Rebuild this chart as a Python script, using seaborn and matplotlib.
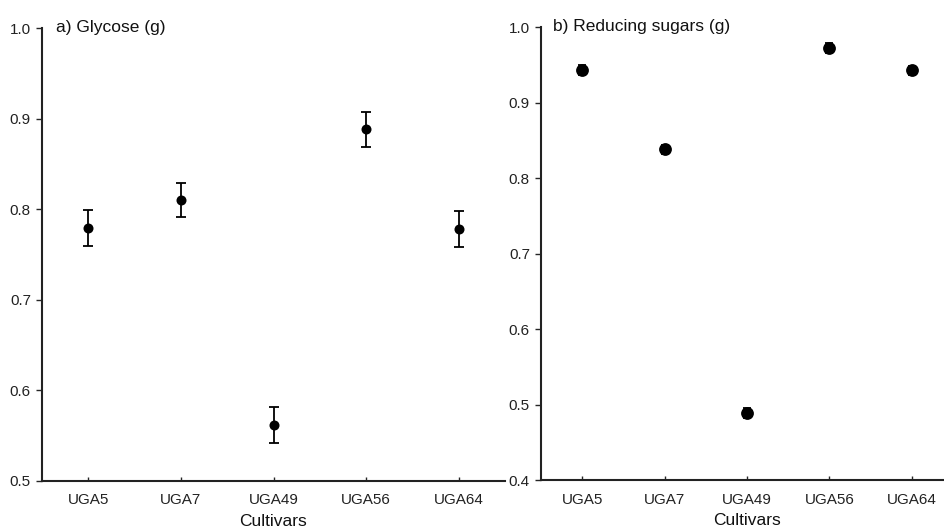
import numpy as np
import matplotlib
matplotlib.use("Agg")
import matplotlib.pyplot as plt
import seaborn as sns

# data
cultivars = ["UGA5", "UGA7", "UGA49", "UGA56", "UGA64"]
glycose_mean = [0.779, 0.810, 0.562, 0.888, 0.778]
glycose_err = [0.020, 0.019, 0.020, 0.019, 0.020]
sugars_mean = [0.943, 0.838, 0.489, 0.972, 0.943]
sugars_err = [0.007, 0.006, 0.007, 0.007, 0.006]

sns.set_theme(style="ticks")
plt.rcParams['font.family'] = ['Liberation Sans', 'DejaVu Sans']

fig = plt.figure(figsize=(9.45, 5.31), dpi=100)
ax1 = fig.add_axes([42 / 945, 50 / 531, 463 / 945, 453 / 531])
ax2 = fig.add_axes([541 / 945, 51 / 531, 412 / 945, 453 / 531])

x = np.arange(len(cultivars))


def draw_panel(ax, means, errs, title, ylim, yticks, msize, capsize):
    ax.errorbar(x, means, yerr=errs, fmt="none", ecolor="black",
                elinewidth=1.3, capsize=capsize, capthick=1.3, zorder=2)
    sns.scatterplot(x=x, y=means, ax=ax, color="black", s=msize,
                    edgecolor="black", linewidth=0, zorder=3, legend=False)
    ax.set_xlim(-0.5, len(cultivars) - 0.5)
    ax.set_ylim(*ylim)
    ax.set_yticks(yticks)
    ax.set_yticklabels([f"{v:.1f}" for v in yticks], fontsize=11, color="#222222")
    ax.set_xticks(x)
    ax.set_xticklabels(cultivars, fontsize=11, color="#222222")
    ax.tick_params(axis="x", direction="in", length=3, width=1, pad=9)
    ax.tick_params(axis="y", direction="out", length=4, width=1, pad=4)
    for s in ["top", "right"]:
        ax.spines[s].set_visible(False)
    for s in ["left", "bottom"]:
        ax.spines[s].set_linewidth(1.5)
        ax.spines[s].set_color("#222222")
    ax.set_xlabel("Cultivars", fontsize=12.5, labelpad=5, color="#111111")
    ax.set_ylabel("")
    ax.text(0.03, 0.985, title, transform=ax.transAxes, fontsize=12.5,
            ha="left", va="bottom", color="#111111")


draw_panel(ax1, glycose_mean, glycose_err, "a) Glycose (g)",
           (0.5, 1.0), [0.5, 0.6, 0.7, 0.8, 0.9, 1.0], 52, 3.5)
draw_panel(ax2, sugars_mean, sugars_err, "b) Reducing sugars (g)",
           (0.4, 1.0), [0.4, 0.5, 0.6, 0.7, 0.8, 0.9, 1.0], 85, 2.8)

fig.savefig("out.png", dpi=100)
